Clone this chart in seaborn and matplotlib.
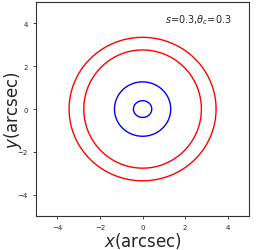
import numpy as np
import pandas as pd
import matplotlib
matplotlib.use("Agg")
import matplotlib.pyplot as plt
import seaborn as sns

# critical curves / caustics (semi-axes in arcsec)
curve_names = ['caustic_outer', 'caustic_inner', 'critical_outer', 'critical_inner']
curve_ax = [3.45, 2.76, 1.32, 0.43]
curve_by = [3.35, 2.76, 1.27, 0.39]
curve_colors = ['red', 'red', 'blue', 'blue']

sns.set_style("ticks")
plt.rcParams['path.simplify'] = False

t = np.linspace(0, 2 * np.pi, 361)
rows = []
for name, a, b in zip(curve_names, curve_ax, curve_by):
    rows.append(pd.DataFrame({'x': a * np.cos(t), 'y': b * np.sin(t), 'curve': name}))
df = pd.concat(rows, ignore_index=True)

fig = plt.figure(figsize=(2.56, 2.51), dpi=100)
ax = fig.add_axes([0.141, 0.135, 0.832, 0.853])
sns.lineplot(data=df, x='x', y='y', hue='curve', palette=dict(zip(curve_names, curve_colors)),
             sort=False, estimator=None, units='curve', lw=1.0, legend=False, ax=ax)
for line in ax.get_lines():
    line.set_solid_capstyle('butt')
    line.set_solid_joinstyle('round')

ax.set_xlim(-5, 5)
ax.set_ylim(-5, 5)
ax.set_xticks([-4, -2, 0, 2, 4])
ax.set_yticks([-4, -2, 0, 2, 4])
ax.tick_params(labelsize=5, length=2.5, width=0.6)
for s in ax.spines.values():
    s.set_linewidth(0.8)
    s.set_color('#333333')
ax.set_xlabel(r'$x$(arcsec)', fontsize=12, labelpad=0)
ax.set_ylabel(r'$y$(arcsec)', fontsize=12, labelpad=-5)
ax.text(2.6, 4.2, r'$s$=0.3,$\theta_c$=0.3', fontsize=7, ha='center', va='center')

fig.savefig('out.png', dpi=100)
